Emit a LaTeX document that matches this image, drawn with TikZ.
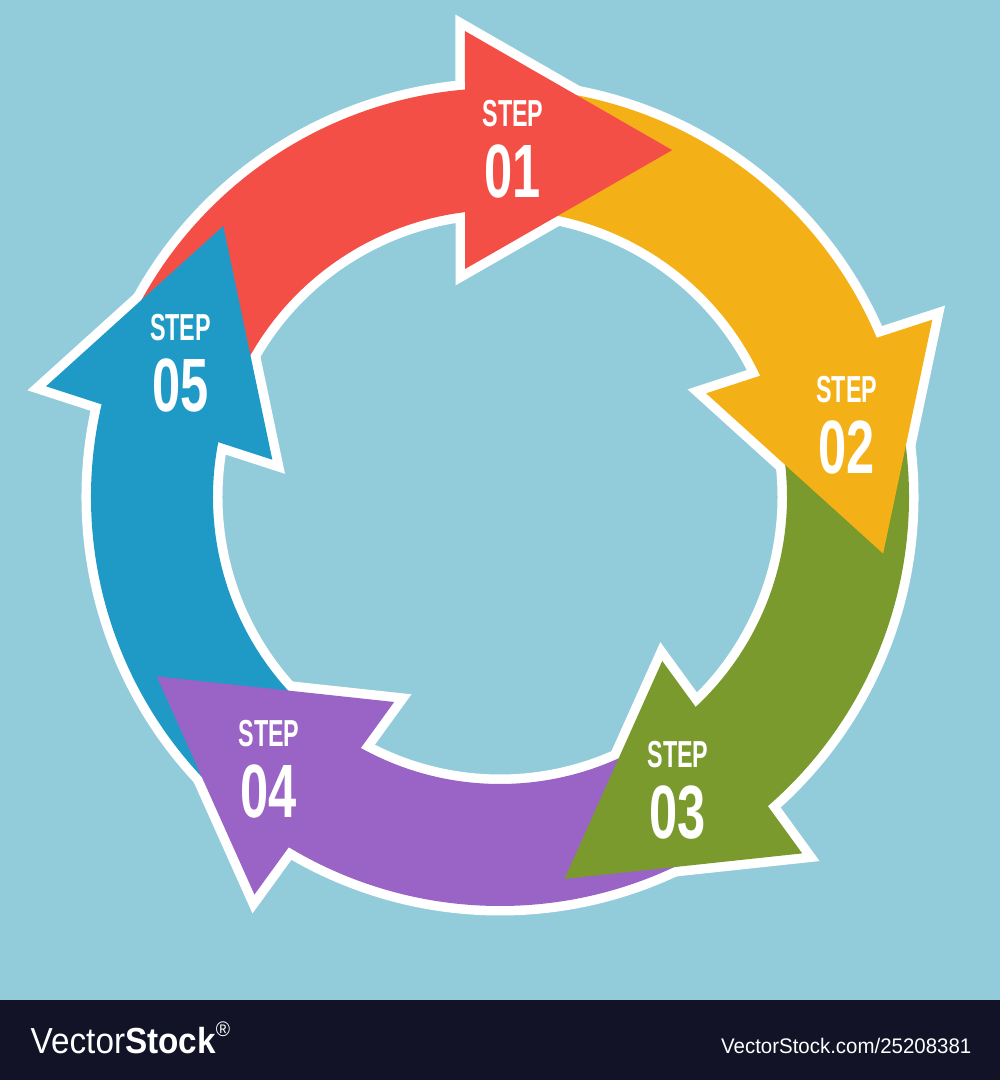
\documentclass[tikz,border=0pt]{standalone}
\usepackage{fontspec}
\usepackage{tikz}
\usetikzlibrary{positioning}

\newfontfamily\stepfont[FakeStretch=0.62]{Liberation Sans}
\newfontfamily\numfont[FakeStretch=0.67]{Liberation Sans}
\newfontfamily\markfont[FakeStretch=0.92]{Liberation Sans}
\newfontfamily\idfont[FakeStretch=0.97]{Liberation Sans}

\definecolor{bgblue}{RGB}{146,203,218}
\definecolor{stepred}{RGB}{244,79,71}
\definecolor{stepyellow}{RGB}{244,177,23}
\definecolor{stepgreen}{RGB}{122,154,46}
\definecolor{steppurple}{RGB}{153,100,197}
\definecolor{stepblue}{RGB}{31,154,198}
\definecolor{barnavy}{RGB}{18,19,38}

% one arrow, drawn for step 01 and turned for the others
\newcommand\stepband{(157:4.09) arc[start angle=157, end angle=93, radius=4.09] -- (93:2.87) arc[start angle=93, end angle=157, radius=2.87] -- cycle}
\newcommand\stephead{(94.3:4.673) -- (63.6:3.873) -- (98.7:2.307) -- cycle}

\tikzset{
  outline/.style={draw=white, line width=0.19cm, line join=miter},
  steptext/.style={text=white, inner sep=0pt, font=\stepfont\bfseries\fontsize{10.7}{12}\selectfont},
  stepnum/.style={text=white, inner sep=0pt, font=\numfont\bfseries\fontsize{21.5}{24}\selectfont},
}

\begin{document}
\begin{tikzpicture}
  \useasboundingbox (-5,-5.83) rectangle (5,4.97);
  \fill[bgblue] (-5,-5.03) rectangle (5,4.97);
  \fill[barnavy] (-5,-5.83) rectangle (5,-5.03);

  % white rim under everything
  \foreach \k in {0,...,4} {
    \begin{scope}[rotate=-72*\k]
      \draw[outline] \stepband;
      \draw[outline] \stephead;
    \end{scope}
  }
  % bands first, heads on top of the next tail
  \foreach \k/\col in {0/stepred,1/stepyellow,2/stepgreen,3/steppurple,4/stepblue} {
    \begin{scope}[rotate=-72*\k]
      \fill[\col] \stepband;
    \end{scope}
  }
  \foreach \k/\col in {0/stepred,1/stepyellow,2/stepgreen,3/steppurple,4/stepblue} {
    \begin{scope}[rotate=-72*\k]
      \fill[\col] \stephead;
    \end{scope}
  }

  % labels
  \foreach \n/\x/\y in {1/0.13/3.837, 2/3.467/1.073, 3/1.78/-2.58, 4/-2.31/-2.37, 5/-3.195/1.69} {
    \node[steptext] (step\n) at (\x,\y) {STEP};
    \node[stepnum, below=0.165cm of step\n] (num\n) {0\n};
  }

  % stock mark
  \node[text=white, anchor=base west, inner sep=0pt, font=\markfont\fontsize{10.3}{12}\selectfont] (mark) at (-4.70,-5.56) {Vector\textbf{Stock}\raisebox{0.85ex}{\fontsize{6}{7}\selectfont ®}};
  \node[text=white, anchor=base east, inner sep=0pt, font=\idfont\fontsize{6}{7}\selectfont] (markid) at (4.72,-5.56) {VectorStock.com/25208381};
\end{tikzpicture}
\end{document}
